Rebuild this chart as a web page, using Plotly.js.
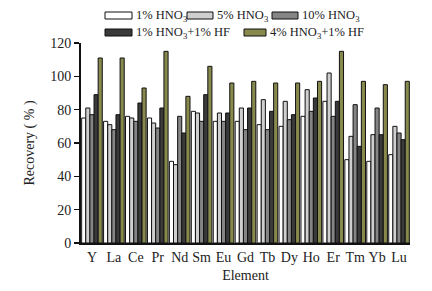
<!DOCTYPE html>
<html>
<head>
<meta charset="utf-8">
<script src="https://cdn.plot.ly/plotly-3.0.1.min.js"></script>
<style>
html,body{margin:0;padding:0;background:#fff;}
#chart{width:432px;height:291px;}
</style>
</head>
<body>
<div id="chart"></div>
<script>
const elements = ["Y","La","Ce","Pr","Nd","Sm","Eu","Gd","Tb","Dy","Ho","Er","Tm","Yb","Lu"];
const seriesNames = ["1% HNO<sub>3</sub>","5% HNO<sub>3</sub>","10% HNO<sub>3</sub>","1% HNO<sub>3</sub>+1% HF","4% HNO<sub>3</sub>+1% HF"];
const hno3_1 = [75,73,76,75,49,79,73,73,71,70,76,85,50,49,53];
const hno3_5 = [81,71,75,72,47,78,78,81,86,85,92,102,64,65,70];
const hno3_10 = [77,68,73,69,76,73,73,68,68,74,79,76,83,81,66];
const hno3_1_hf = [89,77,84,81,66,89,78,81,79,77,87,85,58,65,62];
const hno3_4_hf = [111,111,93,115,88,106,96,97,96,96,97,115,97,95,97];

const values = [hno3_1, hno3_5, hno3_10, hno3_1_hf, hno3_4_hf];
const colors = ["#ffffff","#cfcfcf","#858585","#3a3a3a","#878a4c"];

const FONT = "Liberation Serif, Times New Roman, serif";
const W = 432, H = 291;
const L = 81, R = 410, T = 43, B = 243;

const traces = values.map((v, i) => ({
  type: "bar",
  x: elements,
  y: v,
  name: seriesNames[i],
  marker: {color: colors[i], line: {color: "#111", width: 1}},
  showlegend: false
}));

// custom legend (pixel layout -> paper coords)
const px = x => (x - L) / (R - L);
const py = y => (B - y) / (B - T);
const legendPos = [
  {x0: 105, x1: 132, y0: 12, y1: 19, tx: 134},
  {x0: 187, x1: 213, y0: 12, y1: 19, tx: 215},
  {x0: 272, x1: 298, y0: 12, y1: 19, tx: 300},
  {x0: 105, x1: 132, y0: 29, y1: 36, tx: 134},
  {x0: 244, x1: 266, y0: 29, y1: 36, tx: 268}
];
const shapes = legendPos.map((p, i) => ({
  type: "rect", xref: "paper", yref: "paper",
  x0: px(p.x0), x1: px(p.x1), y0: py(p.y1), y1: py(p.y0),
  fillcolor: colors[i], line: {color: "#111", width: 1}
}));
const annotations = legendPos.map((p, i) => ({
  xref: "paper", yref: "paper",
  x: px(p.tx), y: py((p.y0 + p.y1) / 2),
  xanchor: "left", yanchor: "middle",
  text: seriesNames[i], showarrow: false,
  font: {family: FONT, size: 12.5, color: "#222"}
}));

const layout = {
  width: W, height: H,
  margin: {l: L, r: W - R, t: T, b: H - B, pad: 0},
  paper_bgcolor: "#fff", plot_bgcolor: "#fff",
  barmode: "group", bargap: 0.06, bargroupgap: 0,
  font: {family: FONT, color: "#222"},
  xaxis: {
    type: "category", range: [-0.5, 14.5],
    showline: true, linecolor: "#111", linewidth: 2,
    ticks: "", showgrid: false, zeroline: false,
    tickfont: {family: FONT, size: 14, color: "#222"},
    title: {text: "Element", font: {family: FONT, size: 14, color: "#222"}, standoff: 6}
  },
  yaxis: {
    range: [0, 120], dtick: 20,
    showline: true, linecolor: "#111", linewidth: 2,
    ticks: "outside", ticklen: 5, tickwidth: 1.5, tickcolor: "#111",
    showgrid: false, zeroline: false,
    tickfont: {family: FONT, size: 14, color: "#222"},
    title: {text: "Recovery ( % )", font: {family: FONT, size: 14, color: "#222"}, standoff: 12}
  },
  shapes: shapes,
  annotations: annotations
};

Plotly.newPlot("chart", traces, layout, {staticPlot: true, displayModeBar: false});
</script>
</body>
</html>
